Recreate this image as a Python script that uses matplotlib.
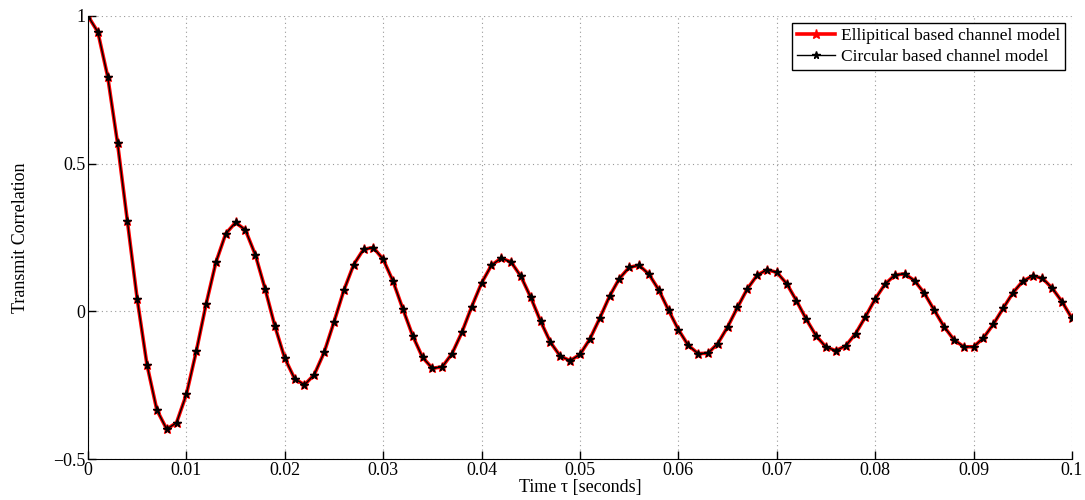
import numpy as np
import matplotlib
matplotlib.use("Agg")
import matplotlib.pyplot as plt

plt.rcParams["font.family"] = ["Liberation Serif", "DejaVu Serif"]
plt.rcParams["axes.unicode_minus"] = True

# time lag axis, 1 ms step
tau_step = 0.001
n_points = 101

# transmit correlation for the elliptical scattering model
rho_ellip = [
    1.000, 0.946, 0.795, 0.570, 0.306, 0.042, -0.182, -0.334, -0.399, -0.377,
    -0.281, -0.136, 0.024, 0.166, 0.263, 0.301, 0.275, 0.192, 0.076, -0.051,
    -0.159, -0.228, -0.249, -0.214, -0.139, -0.036, 0.071, 0.158, 0.210, 0.216,
    0.176, 0.102, 0.008, -0.083, -0.156, -0.193, -0.188, -0.143, -0.071, 0.016,
    0.096, 0.156, 0.180, 0.167, 0.118, 0.047, -0.034, -0.105, -0.152, -0.167,
    -0.146, -0.094, -0.024, 0.051, 0.111, 0.149, 0.156, 0.126, 0.073, 0.004,
    -0.062, -0.115, -0.143, -0.142, -0.109, -0.053, 0.013, 0.076, 0.122, 0.141,
    0.132, 0.094, 0.036, -0.027, -0.083, -0.121, -0.133, -0.117, -0.076, -0.019,
    0.042, 0.092, 0.123, 0.127, 0.104, 0.061, 0.004, -0.052, -0.096, -0.120,
    -0.120, -0.090, -0.044, 0.010, 0.063, 0.102, 0.120, 0.112, 0.078, 0.032,
    -0.024,
]
# circular model gives the same curve at this resolution
rho_circ = list(rho_ellip)

tau = np.arange(n_points) * tau_step

fig = plt.figure(figsize=(10.85, 5.0), dpi=100)
ax = fig.add_axes([0.0811, 0.082, 0.9069, 0.886])

ax.plot(tau, rho_ellip, color="red", lw=2.6, marker="*", ms=6.5,
        mfc="red", mec="red", label="Ellipitical based channel model")
ax.plot(tau, rho_circ, color="black", lw=1.0, marker="*", ms=5.5,
        mfc="black", mec="black", label="Circular based channel model")

ax.set_xlim(0, 0.1)
ax.set_ylim(-0.5, 1)
ax.set_xticks(np.arange(0, 0.1001, 0.01))
ax.set_xticklabels(["0", "0.01", "0.02", "0.03", "0.04", "0.05",
                    "0.06", "0.07", "0.08", "0.09", "0.1"])
ax.set_yticks([-0.5, 0, 0.5, 1])
ax.set_yticklabels(["\u22120.5", "0", "0.5", "1"])

ax.grid(True, ls=(0, (1, 3)), color="#999999", lw=0.8)
ax.spines["top"].set_visible(False)
ax.spines["right"].set_visible(False)
ax.tick_params(direction="in", length=6, width=1, labelsize=13, pad=2)

ax.set_xlabel("Time \u03c4 [seconds]", fontsize=13, labelpad=0)
ax.set_ylabel("Transmit Correlation", fontsize=13, labelpad=17)

leg = ax.legend(loc="upper right", fontsize=12.5, fancybox=False,
                framealpha=1, edgecolor="black", borderaxespad=0.4,
                handlelength=2.2, borderpad=0.3, labelspacing=0.25,
                handletextpad=0.3)
leg.get_frame().set_linewidth(1.0)

fig.savefig("out.png", dpi=100)
